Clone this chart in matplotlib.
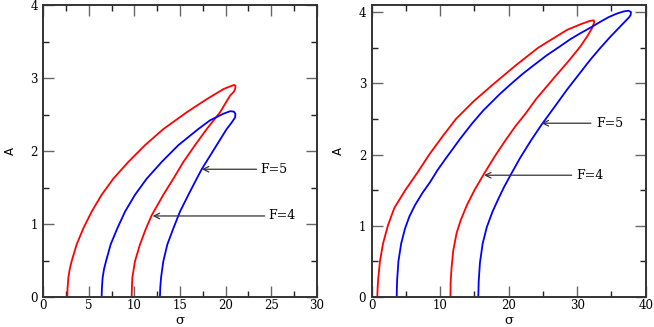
import matplotlib
matplotlib.use("Agg")
import matplotlib.pyplot as plt
from matplotlib.ticker import MultipleLocator

# ---- data (sigma, A) ----
# Left panel, red loop (outer branch up, then inner branch down)
L_red_sigma = [2.64, 2.66, 2.75, 2.90, 3.11, 3.66, 4.39, 5.31, 6.40, 7.68, 9.33, 11.16, 13.17, 15.73, 17.93, 19.80,
               20.60, 20.95, 21.10, 21.05, 20.90, 20.50, 19.39, 17.93, 16.65, 15.37, 14.27, 13.17, 11.90, 11.27,
               10.61, 10.06, 9.77, 9.72, 9.70]
L_red_A = [0.0, 0.12, 0.265, 0.38, 0.49, 0.72, 0.94, 1.17, 1.40, 1.62, 1.85, 2.08, 2.30, 2.53, 2.71, 2.85,
           2.89, 2.905, 2.89, 2.85, 2.81, 2.76, 2.53, 2.30, 2.08, 1.85, 1.62, 1.40, 1.12, 0.94,
           0.72, 0.49, 0.265, 0.12, 0.0]

# Left panel, blue loop
L_blue_sigma = [6.40, 6.43, 6.51, 6.66, 6.88, 7.39, 8.12, 8.97, 10.06, 11.34, 12.99, 14.82, 17.00, 18.29, 19.75,
                20.50, 20.90, 21.08, 21.05, 20.67, 20.12, 19.02, 17.38, 16.83, 15.92, 15.00, 14.27, 13.61, 13.17,
                12.92, 12.83, 12.80]
L_blue_A = [0.0, 0.12, 0.265, 0.38, 0.49, 0.72, 0.94, 1.17, 1.40, 1.62, 1.85, 2.08, 2.30, 2.42, 2.51,
            2.545, 2.54, 2.51, 2.46, 2.39, 2.30, 2.08, 1.75, 1.62, 1.40, 1.17, 0.94, 0.72, 0.49,
            0.265, 0.12, 0.0]

# Right panel, red loop
R_red_sigma = [0.82, 0.86, 0.95, 1.20, 1.65, 2.35, 3.30, 4.90, 6.70, 8.40, 10.30, 12.30, 14.90, 17.90, 21.00,
               24.30, 28.50, 30.50, 31.80, 32.40, 32.50, 32.20, 31.40, 30.40, 28.80, 27.00, 25.50, 24.00, 22.50,
               21.00, 19.60, 18.00, 16.40, 15.00, 13.90, 13.00, 12.40, 11.90, 11.65, 11.52, 11.50]
R_red_A = [0.0, 0.12, 0.25, 0.50, 0.75, 1.00, 1.25, 1.50, 1.75, 2.00, 2.25, 2.50, 2.75, 3.00, 3.25,
           3.50, 3.75, 3.83, 3.875, 3.885, 3.86, 3.78, 3.65, 3.51, 3.32, 3.12, 2.95, 2.78, 2.58,
           2.40, 2.21, 1.98, 1.73, 1.50, 1.29, 1.08, 0.90, 0.65, 0.40, 0.20, 0.0]

# Right panel, blue loop
R_blue_sigma = [3.65, 3.67, 3.72, 3.90, 4.30, 4.86, 5.50, 6.32, 7.40, 8.50, 9.60, 10.70, 12.90, 14.60, 16.30,
                18.70, 20.20, 22.00, 23.60, 25.50, 27.50, 29.00, 30.40, 31.90, 33.30, 34.60, 35.80, 36.80, 37.50,
                37.85, 37.80, 37.60, 37.20, 36.70, 35.80, 34.80, 33.40, 31.90, 30.20, 28.50, 26.70, 24.80, 23.20,
                21.65, 20.20, 19.30, 18.50, 17.60, 16.80, 16.20, 15.80, 15.62, 15.56]
R_blue_A = [0.0, 0.12, 0.25, 0.50, 0.75, 0.96, 1.13, 1.29, 1.46, 1.61, 1.78, 1.93, 2.22, 2.43, 2.62,
            2.85, 2.98, 3.13, 3.25, 3.39, 3.52, 3.62, 3.70, 3.78, 3.86, 3.93, 3.98, 4.01, 4.02,
            4.00, 3.96, 3.93, 3.89, 3.84, 3.75, 3.65, 3.50, 3.33, 3.12, 2.91, 2.67, 2.42, 2.19,
            1.95, 1.70, 1.54, 1.38, 1.19, 0.98, 0.75, 0.48, 0.22, 0.0]

# annotations: (label, text sigma, arrow tail sigma, arrow tip sigma, A)
L_ann = [("F=5", 23.8, 23.4, 17.4, 1.75), ("F=4", 24.7, 24.3, 12.0, 1.11)]
R_ann = [("F=5", 32.8, 32.0, 24.8, 2.44), ("F=4", 29.9, 29.2, 16.4, 1.71)]

serif = ["DejaVu Serif"]

fig = plt.figure(figsize=(6.54, 3.27), dpi=100)
bot = 30 / 327
hgt = (327 - 5 - 30) / 327
ax1 = fig.add_axes([43.3 / 654, bot, 273.4 / 654, hgt])
ax2 = fig.add_axes([371.7 / 654, bot, 274.0 / 654, hgt])

def style(ax, xmax, xmaj, ymax, ylab_x):
    ax.set_xlim(0, xmax)
    ax.set_ylim(0, ymax)
    ax.xaxis.set_major_locator(MultipleLocator(xmaj))
    ax.xaxis.set_minor_locator(MultipleLocator(xmaj / 2))
    ax.yaxis.set_major_locator(MultipleLocator(1))
    ax.yaxis.set_minor_locator(MultipleLocator(0.5))
    ax.tick_params(which="both", direction="in", top=True, right=True)
    ax.tick_params(which="major", length=8, width=1.0, color="#666666")
    ax.tick_params(axis="x", which="major", pad=1.5)
    ax.tick_params(axis="y", which="major", pad=4)
    ax.tick_params(which="minor", length=4, width=1.0, color="#222222")
    for lab in ax.get_xticklabels() + ax.get_yticklabels():
        lab.set_family(serif)
        lab.set_fontsize(8.5)
    for s in ax.spines.values():
        s.set_linewidth(1.4)
        s.set_color("#333333")
    ax.set_xlabel("σ", family=serif, fontsize=9.5)
    ax.xaxis.label.set_va("bottom")
    ax.xaxis.set_label_coords(0.5, (0.5 - 30) / (327 * hgt))
    ax.set_ylabel("A", family="DejaVu Sans", fontsize=8.5)
    ax.yaxis.set_label_coords(ylab_x, 0.5)

def draw(ax, rs, ra, bs, ba, anns):
    ax.plot(rs, ra, color="#ff0000", lw=1.3)
    ax.plot(bs, ba, color="#0000ff", lw=1.3)
    for lab, tx, tail, hx, y in anns:
        ax.annotate("", xy=(hx, y), xytext=(tail, y),
                    arrowprops=dict(arrowstyle="->", color="#333333", lw=0.9, shrinkA=0, shrinkB=0))
        ax.text(tx, y, lab, family=serif, fontsize=9, va="center", ha="left")

style(ax1, 30, 5, 4, -0.098)
style(ax2, 40, 10, 4.1, -0.098)
draw(ax1, L_red_sigma, L_red_A, L_blue_sigma, L_blue_A, L_ann)
draw(ax2, R_red_sigma, R_red_A, R_blue_sigma, R_blue_A, R_ann)

fig.savefig("out.png", dpi=100)
